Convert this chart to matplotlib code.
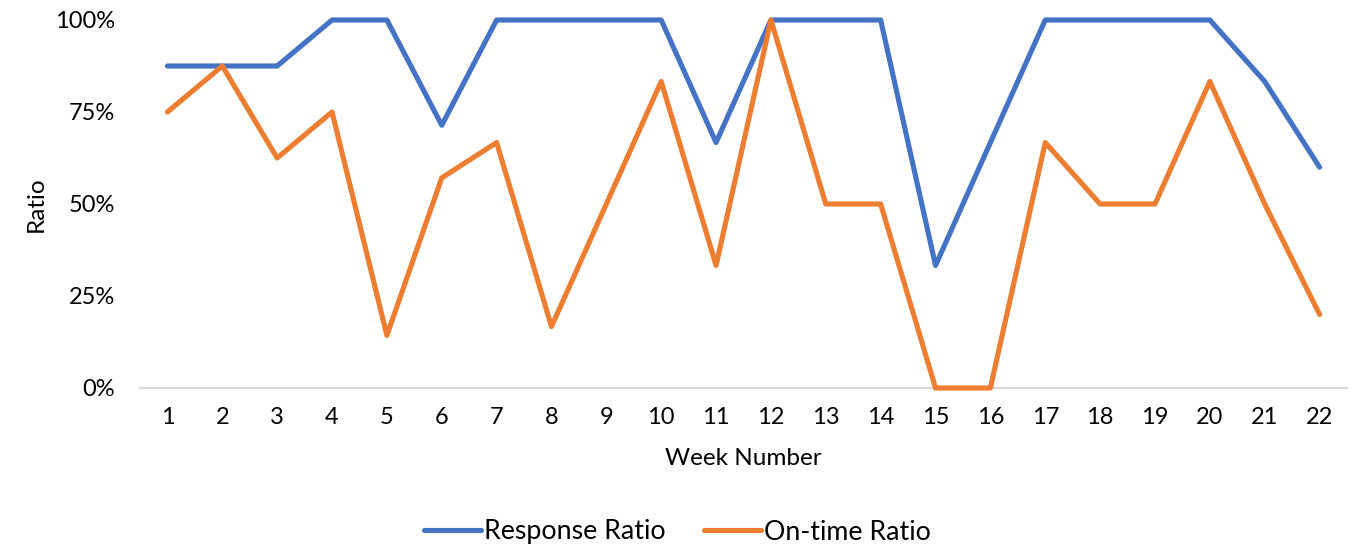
import matplotlib
matplotlib.use("Agg")
import matplotlib.pyplot as plt
from matplotlib.ticker import PercentFormatter

plt.rcParams['font.family'] = ['Lato', 'DejaVu Sans']

weeks = list(range(1, 23))
response_ratio = [0.875, 0.875, 0.875, 1.0, 1.0, 0.714, 1.0, 1.0, 1.0, 1.0, 0.667,
                  1.0, 1.0, 1.0, 0.333, 0.667, 1.0, 1.0, 1.0, 1.0, 0.833, 0.60]
ontime_ratio = [0.75, 0.875, 0.625, 0.75, 0.143, 0.571, 0.667, 0.167, 0.50, 0.833, 0.333,
                1.0, 0.50, 0.50, 0.0, 0.0, 0.667, 0.50, 0.50, 0.833, 0.50, 0.20]
y_ticks = [0, 0.25, 0.5, 0.75, 1.0]

fig = plt.figure(figsize=(13.55, 5.45), dpi=100)
ax = fig.add_axes([140 / 1355, 1 - 388 / 545, 1207 / 1355, 368 / 545])

line_kw = dict(linewidth=3.7, solid_capstyle='round', solid_joinstyle='round',
               clip_on=False, zorder=5)
ax.plot(weeks, response_ratio, color='#4472C4', label='Response Ratio', **line_kw)
ax.plot(weeks, ontime_ratio, color='#ED7D31', label='On-time Ratio', **line_kw)

ax.set_xlim(0.5, 22.5)
ax.set_ylim(0, 1)
ax.set_xticks(weeks)
ax.set_yticks(y_ticks)
ax.yaxis.set_major_formatter(PercentFormatter(1.0, decimals=0))
ax.tick_params(axis='both', length=0, labelsize=17, colors='#000000')
ax.tick_params(axis='x', pad=14)
ax.tick_params(axis='y', pad=18)

for side in ('top', 'right', 'left'):
    ax.spines[side].set_visible(False)
ax.spines['bottom'].set_color('#D9D9D9')
ax.spines['bottom'].set_linewidth(1.5)
ax.spines['bottom'].set_zorder(1)

ax.set_xlabel('Week Number', fontsize=17.5, labelpad=14)
ax.set_ylabel('Ratio', fontsize=17.5, labelpad=6)

fig.legend(loc='center', bbox_to_anchor=(0.5, 1 - 532 / 545), ncol=2, frameon=False,
           fontsize=19.3, handlelength=2.1, handletextpad=0.12, columnspacing=1.45)

fig.savefig('out.png', dpi=100)
